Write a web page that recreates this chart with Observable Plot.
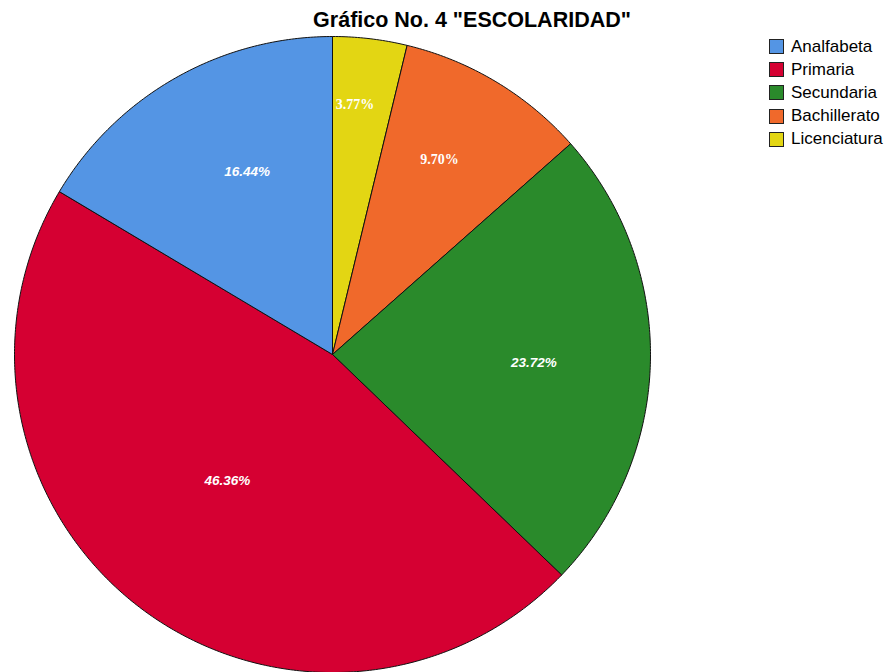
<!DOCTYPE html>
<html>
<head>
<meta charset="utf-8">
<script src="https://cdn.jsdelivr.net/npm/d3@7"></script>
<script src="https://cdn.jsdelivr.net/npm/@observablehq/plot@0.6"></script>
<style>
  html, body { margin: 0; padding: 0; background: #fff; }
  #wrap { position: relative; width: 891px; height: 672px; overflow: hidden; }
  #title { position: absolute; left: 272px; width: 400px; top: 8px; text-align: center; white-space: nowrap;
           font: bold 21.5px "Liberation Sans", Arial, sans-serif; color: #000; }
  #legend { position: absolute; left: 769px; top: 35px; font: 17px "Liberation Sans", Arial, sans-serif; color:#000; white-space: nowrap; }
  .row { display: flex; align-items: center; height: 23.2px; }
  .sw { width: 13px; height: 13px; border: 1px solid #222; margin-right: 7px; box-sizing: content-box; }
</style>
</head>
<body>
<div id="wrap">
  <div id="title"></div>
  <div id="legend"></div>
</div>
<script>
// ---- data ----
const categories = ["Analfabeta", "Primaria", "Secundaria", "Bachillerato", "Licenciatura"];
const percents = [16.44, 46.36, 23.72, 9.70, 3.77];
const colors = ["#5495E4", "#D50032", "#2A8A2B", "#F0692B", "#E3D613"];
const titleText = 'Gráfico No. 4 "ESCOLARIDAD"';

// ---- layout settings (not data): label placement relative to slice middle ----
const labelRadius = [0.635, 0.516, 0.634, 0.70, 0.788];
const labelAngleShiftDeg = [4.6, 2.5, 1.1, -2.3, -1.65];
const serifLabels = ["Bachillerato", "Licenciatura"];

// slices drawn clockwise from 12 o'clock, in reverse legend order
const order = categories.map((c, i) => i).reverse();
const rows = [];
const labels = [];
let acc = 0;
const total = d3.sum(percents);
for (const i of order) {
  const a0 = acc / total * 2 * Math.PI;
  acc += percents[i];
  const a1 = acc / total * 2 * Math.PI;
  const pts = [[0, 0]];
  const n = Math.max(4, Math.ceil((a1 - a0) / 0.01));
  for (let k = 0; k <= n; k++) {
    const a = a0 + (a1 - a0) * k / n;
    pts.push([Math.sin(a), Math.cos(a)]);
  }
  pts.push([0, 0]);
  for (const [x, y] of pts) rows.push({cat: categories[i], x, y});
  const am = (a0 + a1) / 2 + labelAngleShiftDeg[i] * Math.PI / 180;
  labels.push({cat: categories[i], x: labelRadius[i] * Math.sin(am), y: labelRadius[i] * Math.cos(am),
               text: percents[i].toFixed(2) + "%"});
}

const R = 318, cx = 332, cy = 354;
const chart = Plot.plot({
  width: 891,
  height: 672,
  margin: 0,
  x: {domain: [-1, 1], range: [cx - R, cx + R], axis: null},
  y: {domain: [-1, 1], range: [cy + R, cy - R], axis: null},
  color: {domain: categories, range: colors},
  marks: [
    Plot.line(rows, {x: "x", y: "y", z: "cat", fill: "cat", stroke: "#111", strokeWidth: 1, curve: "linear"}),
    Plot.text(labels.filter(d => !serifLabels.includes(d.cat)), {x: "x", y: "y", text: "text", fill: "white",
      fontSize: 13.5, fontWeight: "bold", fontStyle: "italic", fontFamily: "'Liberation Sans Narrow', 'Liberation Sans', Arial, sans-serif"}),
    Plot.text(labels.filter(d => serifLabels.includes(d.cat)), {x: "x", y: "y", text: "text", fill: "white",
      fontSize: 14, fontWeight: "bold", fontFamily: "'Liberation Serif', 'Times New Roman', serif"})
  ]
});
chart.style.position = "absolute";
chart.style.left = "0";
chart.style.top = "0";
document.getElementById("wrap").insertBefore(chart, document.getElementById("title"));
document.getElementById("title").textContent = titleText;

const lg = document.getElementById("legend");
categories.forEach((c, i) => {
  const r = document.createElement("div");
  r.className = "row";
  const s = document.createElement("div");
  s.className = "sw";
  s.style.background = colors[i];
  const t = document.createElement("span");
  t.textContent = c;
  r.appendChild(s); r.appendChild(t);
  lg.appendChild(r);
});
</script>
</body>
</html>
